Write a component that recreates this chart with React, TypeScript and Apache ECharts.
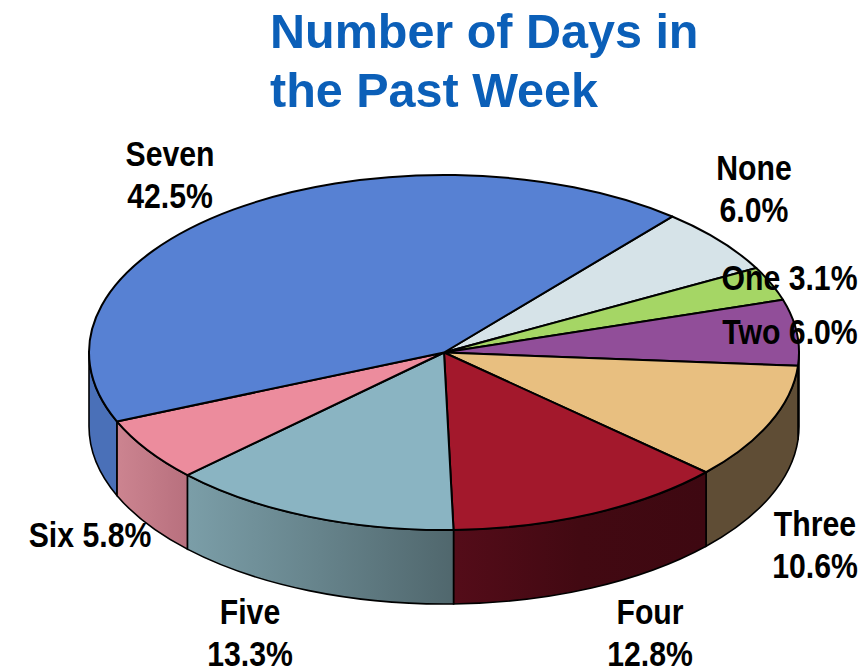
import React, { useEffect, useRef } from "react";
import * as echarts from "echarts";

const titleLines = ["Number of Days in", "the Past Week"];
const categories = ["None", "One", "Two", "Three", "Four", "Five", "Six", "Seven"];
const percents = [6.0, 3.1, 6.0, 10.6, 12.8, 13.3, 5.8, 42.5];
const topColors = ["#d6e3e8", "#a5d665", "#914e99", "#e8bf80", "#a3182c", "#8ab4c2", "#ec8c9d", "#5781d3"];
const wallFrom = ["#aab5b9", "#83aa50", "#5a3060", "#5f4d35", "#540c19", "#7b9ea8", "#cc8490", "#4a70b8"];
const wallTo = ["#aab5b9", "#83aa50", "#5a3060", "#5f4d35", "#3e0811", "#50676d", "#b8707e", "#4a70b8"];

const CX = 444;
const CY = 352.5;
const RX = 355;
const RY = 177.5;
const DEPTH = 74;
const START_DEG = 50;

const total = percents.reduce((a, b) => a + b, 0);
const pt = (deg: number, dy = 0) => {
  const r = (deg * Math.PI) / 180;
  return [CX + RX * Math.cos(r), CY - RY * Math.sin(r) + dy];
};

const sliceBounds = (idx: number) => {
  let before = 0;
  for (let i = 0; i < idx; i++) before += percents[i];
  const a0 = START_DEG - (before / total) * 360;
  const a1 = a0 - (percents[idx] / total) * 360;
  return [a0, a1];
};

const arcTo = (from: number, to: number, sweep: number, dy = 0) => {
  const p = pt(to, dy);
  const large = Math.abs(from - to) > 180 ? 1 : 0;
  return `A ${RX} ${RY} 0 ${large} ${sweep} ${p[0]} ${p[1]}`;
};

const renderItem = (params: any, api: any) => {
  const idx = params.dataIndex;
  api.value(0);
  const [a0, a1] = sliceBounds(idx);
  const children: any[] = [];
  const wa0 = Math.min(a0, 0);
  const wa1 = Math.max(a1, -180);
  if (wa0 > wa1) {
    const s0 = pt(wa0);
    const e1 = pt(wa1, DEPTH);
    const d = `M ${s0[0]} ${s0[1]} ${arcTo(wa0, wa1, 1)} L ${e1[0]} ${e1[1]} ${arcTo(wa1, wa0, 0, DEPTH)} Z`;
    children.push({
      type: "path",
      shape: { pathData: d },
      style: {
        fill: new echarts.graphic.LinearGradient(0, 0, 1, 0, [
          { offset: 0, color: wallFrom[idx] },
          { offset: 0.5, color: wallTo[idx] === "#3e0811" ? "#420912" : wallFrom[idx] === wallTo[idx] ? wallTo[idx] : echarts.color.lerp(0.5, [wallFrom[idx], wallTo[idx]]) },
          { offset: 1, color: wallTo[idx] },
        ]),
        stroke: "#000",
        lineWidth: 1.6,
      },
    });
  }
  const p0 = pt(a0);
  const d = `M ${CX} ${CY} L ${p0[0]} ${p0[1]} ${arcTo(a0, a1, 1)} Z`;
  children.push({
    type: "path",
    shape: { pathData: d },
    style: { fill: topColors[idx], stroke: "#000", lineWidth: 2, lineJoin: "round" },
  });
  return { type: "group", children };
};

// label anchor centres, by category
const labelBoxes: Record<string, { x: number; y: number; oneLine?: boolean }> = {
  None: { x: 754, y: 189 },
  One: { x: 789.5, y: 278, oneLine: true },
  Two: { x: 790, y: 332, oneLine: true },
  Three: { x: 815, y: 545 },
  Four: { x: 650, y: 633 },
  Five: { x: 250, y: 633 },
  Six: { x: 90, y: 535, oneLine: true },
  Seven: { x: 170, y: 175 },
};

export default function App() {
  const ref = useRef<HTMLDivElement>(null);
  useEffect(() => {
    const chart = echarts.init(ref.current!, null, { renderer: "svg" });
    chart.setOption({
      animation: false,
      backgroundColor: "#fff",
      title: {
        text: titleLines.join("\n"),
        left: 265,
        top: -4,
        textStyle: {
          fontFamily: "Liberation Sans",
          fontWeight: "bold",
          fontSize: 48.5,
          lineHeight: 59,
          color: "#0b5fb8",
        },
      },
      series: [
        {
          type: "custom",
          coordinateSystem: "none",
          data: percents.map((v, i) => ({ name: categories[i], value: [v] })),
          renderItem,
          silent: true,
        },
      ],
      graphic: categories.map((name, i) => {
        const box = labelBoxes[name];
        const val = `${percents[i].toFixed(1)}%`;
        return {
          type: "text",
          z: 100,
          x: box.x,
          y: box.y,
          scaleX: 0.84,
          style: {
            text: box.oneLine ? `${name} ${val}` : `${name}\n${val}`,
            fontFamily: "Liberation Sans",
            fontWeight: "bold",
            fontSize: 36,
            lineHeight: 42,
            fill: "#000",
            align: "center",
            verticalAlign: "middle",
          },
        };
      }),
    });
    return () => chart.dispose();
  }, []);
  return <div ref={ref} style={{ position: "absolute", left: 0, top: 0, width: 863, height: 670 }} />;
}
